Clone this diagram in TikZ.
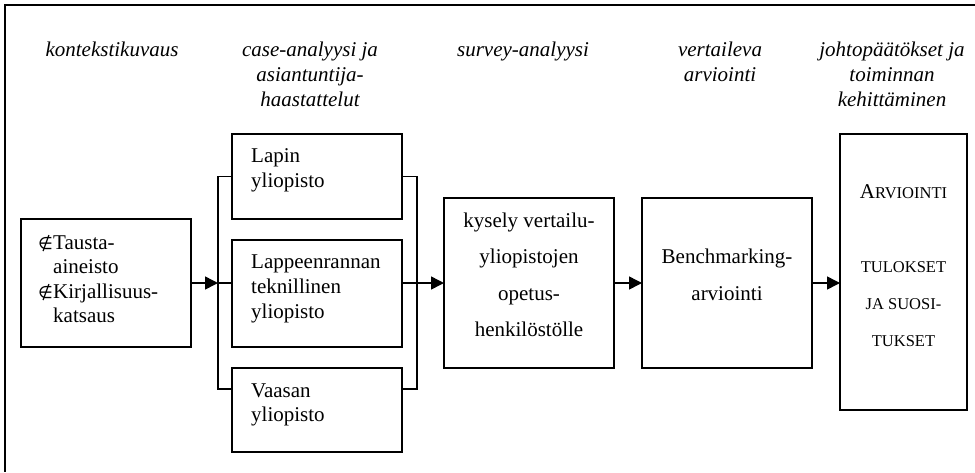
\documentclass[tikz,border=0pt]{standalone}
\usepackage{fontspec}
\setmainfont{Liberation Serif}
\newfontfamily\symfnt{DejaVu Sans}
\usetikzlibrary{arrows.meta,calc}
\begin{document}
\begin{tikzpicture}[x=1pt,y=-1pt,
  box/.style={draw, line width=1.5pt, rectangle, inner sep=0pt, outer sep=0pt},
  conn/.style={line width=1.5pt},
  arr/.style={line width=1.5pt, -{Triangle[length=13pt,width=13pt]}},
  hdr/.style={font=\fontsize{21}{25}\selectfont\itshape, anchor=base, inner sep=0pt},
  txtl/.style={font=\fontsize{21}{25}\selectfont, anchor=base west, inner sep=0pt},
  txtc/.style={font=\fontsize{21}{25}\selectfont, anchor=base, inner sep=0pt},
]
\useasboundingbox (0,0) rectangle (975,472);
% frame (clipped at right and bottom)
\draw[line width=1.8pt] (975,5) -- (5,5) -- (5,472);

% headers
\node[hdr] (h1a) at (112,56) {kontekstikuvaus};
\node[hdr] (h2a) at (310,56) {case-analyysi ja};
\node[hdr] (h2b) at (310,81) {asiantuntija-};
\node[hdr] (h2c) at (310,106) {haastattelut};
\node[hdr] (h3a) at (523,56) {survey-analyysi};
\node[hdr] (h4a) at (720,56) {vertaileva};
\node[hdr] (h4b) at (720,81) {arviointi};
\node[hdr] (h5a) at (892,56) {johtopäätökset ja};
\node[hdr] (h5b) at (892,81) {toiminnan};
\node[hdr] (h5c) at (892,106) {kehittäminen};

% boxes
\node[box, minimum width=170pt, minimum height=128pt] (ctx) at (106,283) {};
\node[box, minimum width=170pt, minimum height=85pt] (lapin) at (317,176.5) {};
\node[box, minimum width=170pt, minimum height=107pt] (lapp) at (317,293.5) {};
\node[box, minimum width=170pt, minimum height=84pt] (vaasa) at (317,410) {};
\node[box, minimum width=170pt, minimum height=170pt] (survey) at (529,283) {};
\node[box, minimum width=170pt, minimum height=170pt] (bench) at (727,283) {};
\node[box, minimum width=127pt, minimum height=276pt] (final) at (903.5,272) {};

% box texts
\node[txtl, font=\fontsize{17}{20}\symfnt] (c1s) at (38,249) {∉};
\node[txtl] (c1) at (53,249) {Tausta-};
\node[txtl] (c2) at (53,273.5) {aineisto};
\node[txtl, font=\fontsize{17}{20}\symfnt] (c3s) at (38,298) {∉};
\node[txtl] (c3) at (53,298) {Kirjallisuus-};
\node[txtl] (c4) at (53,322.5) {katsaus};

\node[txtl] (l1) at (251,162) {Lapin};
\node[txtl] (l2) at (251,187) {yliopisto};
\node[txtl] (p1) at (251,268) {Lappeenrannan};
\node[txtl] (p2) at (251,293) {teknillinen};
\node[txtl] (p3) at (251,318) {yliopisto};
\node[txtl] (v1) at (251,397) {Vaasan};
\node[txtl] (v2) at (251,421) {yliopisto};

\node[txtc] (s1) at (529,227) {kysely vertailu-};
\node[txtc] (s2) at (529,263.5) {yliopistojen};
\node[txtc] (s3) at (529,300) {opetus-};
\node[txtc] (s4) at (529,336.5) {henkilöstölle};

\node[txtc] (b1) at (727,263.5) {Benchmarking-};
\node[txtc] (b2) at (727,300) {arviointi};

\node[txtc] (f1) at (903.5,198) {A{\fontsize{16.5}{20}\selectfont RVIOINTI}};
\node[txtc, font=\fontsize{16.5}{20}\selectfont] (f2) at (903.5,272) {TULOKSET};
\node[txtc, font=\fontsize{16.5}{20}\selectfont] (f3) at (903.5,309) {JA SUOSI-};
\node[txtc, font=\fontsize{16.5}{20}\selectfont] (f4) at (903.5,346) {TUKSET};

% junctions
\coordinate (jl) at (218,283);
\coordinate (jr) at (417,283);
\coordinate (vaw) at ($(vaasa.north west)+(0,21)$);
\coordinate (vae) at ($(vaasa.north east)+(0,21)$);

% connectors
\draw[arr] (ctx.east) -- (jl);
\draw[conn] (lapin.west) -| (jl);
\draw[conn] (vaw) -| (jl);
\draw[conn] (jl) -- (lapp.west |- jl);
\draw[conn] (lapin.east) -| (jr);
\draw[conn] (vae) -| (jr);
\draw[conn] (lapp.east |- jr) -- (jr);
\draw[arr] (jr) -- (survey.west);
\draw[arr] (survey.east) -- (bench.west);
\draw[arr] (bench.east) -- (final.west |- bench.east);
\end{tikzpicture}
\end{document}
